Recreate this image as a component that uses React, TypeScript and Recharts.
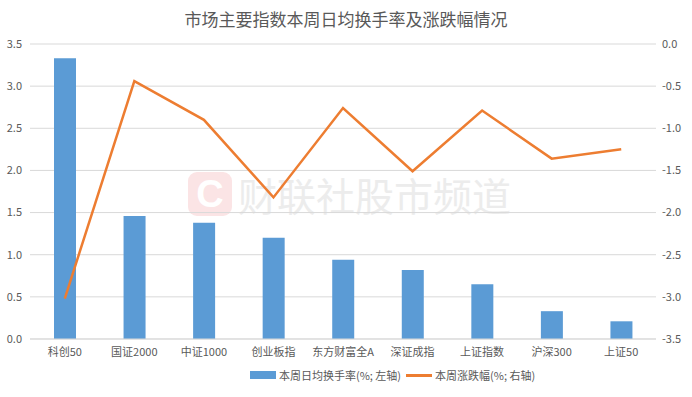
import React from 'react';
import { ComposedChart, Bar, Line, XAxis, YAxis, CartesianGrid } from 'recharts';

const indices = ['科创50', '国证2000', '中证1000', '创业板指', '东方财富全A', '深证成指', '上证指数', '沪深300', '上证50'];
const turnover = [3.33, 1.46, 1.38, 1.2, 0.94, 0.82, 0.65, 0.33, 0.21];
const change = [-3.02, -0.44, -0.9, -1.82, -0.76, -1.51, -0.79, -1.36, -1.25];
const leftTicks = [0, 0.5, 1, 1.5, 2, 2.5, 3, 3.5];
const rightTicks = [0, -0.5, -1, -1.5, -2, -2.5, -3, -3.5];

const data = indices.map((name, i) => ({ name, turnover: turnover[i], change: change[i] }));

const FONT = '"Noto Sans CJK SC", "Noto Sans", sans-serif';
const TEXT = '#595959';
const BLUE = '#5b9bd5';
const ORANGE = '#ed7d31';

const Legend = () => (
  <div
    style={{
      position: 'absolute', left: 250, top: 367,
      display: 'flex', alignItems: 'center',
      fontFamily: FONT, fontSize: 11, color: TEXT, whiteSpace: 'nowrap',
    }}
  >
    <span style={{ display: 'inline-block', width: 26, height: 8, background: BLUE, marginRight: 3 }} />
    <span style={{ marginRight: 5 }}>本周日均换手率(%; 左轴)</span>
    <span style={{ display: 'inline-block', width: 26, height: 3, background: ORANGE, marginRight: 3 }} />
    <span>本周涨跌幅(%; 右轴)</span>
  </div>
);

const Watermark = () => (
  <div style={{ position: 'absolute', left: 188, top: 166, display: 'flex', alignItems: 'center' }}>
    <div
      style={{
        width: 44, height: 44, borderRadius: 9, background: '#fbe4e5',
        color: '#fff', fontFamily: 'Arial, sans-serif', fontWeight: 'bold', fontSize: 38,
        display: 'flex', alignItems: 'center', justifyContent: 'center', marginRight: 6,
      }}
    >
      C
    </div>
    <span style={{ fontFamily: FONT, fontSize: 39, color: '#ececec' }}>财联社股市频道</span>
  </div>
);

export default function App() {
  return (
    <div style={{ position: 'absolute', left: 0, top: 0, width: 692, height: 397, background: '#fff' }}>
      <Watermark />
      <div
        style={{
          position: 'absolute', left: 0, top: 6, width: 692, textAlign: 'center',
          fontFamily: FONT, fontSize: 17, color: TEXT,
        }}
      >
        市场主要指数本周日均换手率及涨跌幅情况
      </div>
      <div style={{ position: 'absolute', left: 0, top: 0 }}>
        <ComposedChart
          width={692}
          height={397}
          data={data}
          margin={{ top: 44, right: 0, bottom: 36, left: 0 }}
          barCategoryGap={0}
        >
          <CartesianGrid vertical={false} stroke="#d9d9d9" yAxisId="left" />
          <XAxis
            dataKey="name"
            axisLine={{ stroke: '#d9d9d9' }}
            tickLine={false}
            tickSize={0}
            tickMargin={9}
            interval={0}
            height={22}
            tick={{ fill: TEXT, fontSize: 11, fontFamily: FONT }}
          />
          <YAxis
            yAxisId="left"
            domain={[0, 3.5]}
            ticks={leftTicks}
            width={30}
            axisLine={false}
            tickLine={false}
            tickSize={0}
            tickMargin={8}
            tickFormatter={(v: number) => v.toFixed(1)}
            tick={{ fill: TEXT, fontSize: 11, fontFamily: FONT }}
          />
          <YAxis
            yAxisId="right"
            orientation="right"
            domain={[-3.5, 0]}
            ticks={rightTicks}
            width={36}
            axisLine={false}
            tickLine={false}
            tickSize={0}
            tickMargin={6}
            tickFormatter={(v: number) => v.toFixed(1)}
            tick={{ fill: TEXT, fontSize: 11, fontFamily: FONT }}
          />
          <Bar yAxisId="left" dataKey="turnover" fill={BLUE} barSize={22} isAnimationActive={false} />
          <Line
            yAxisId="right"
            dataKey="change"
            stroke={ORANGE}
            strokeWidth={2.5}
            dot={false}
            activeDot={false}
            type="linear"
            isAnimationActive={false}
          />
        </ComposedChart>
      </div>
      <Legend />
    </div>
  );
}
